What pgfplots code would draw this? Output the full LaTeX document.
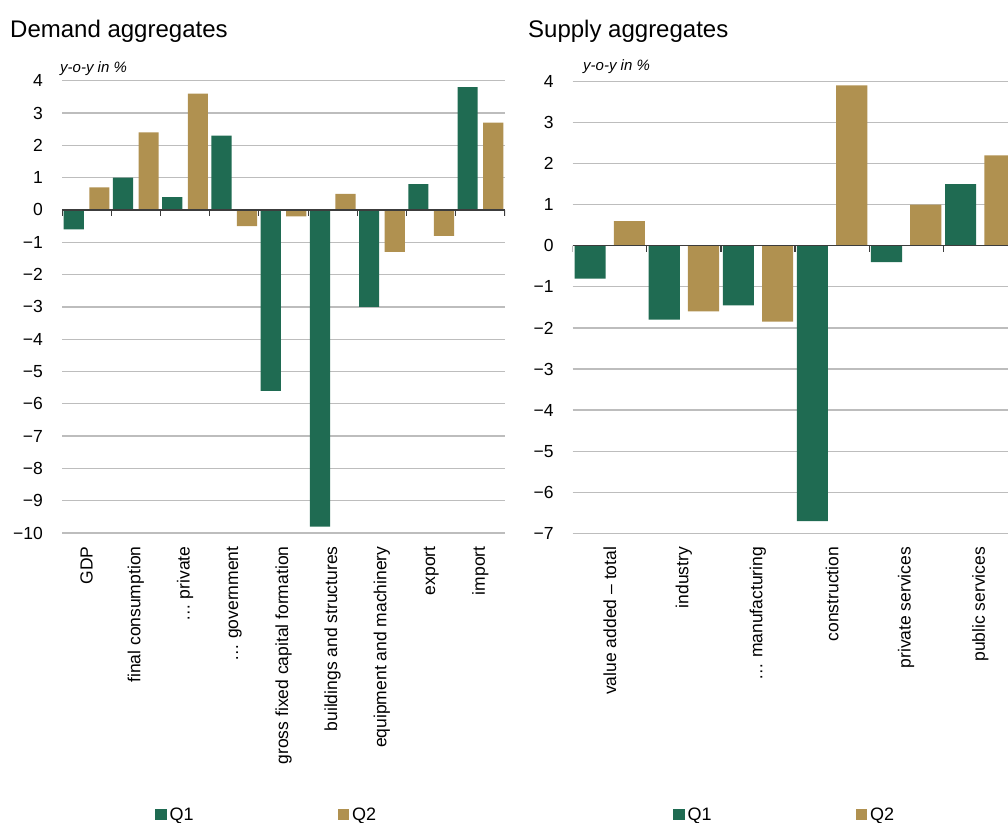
\documentclass[border=0pt]{standalone}
\usepackage{fontspec}
\setmainfont{Liberation Sans}
\usepackage{pgfplots}
\pgfplotsset{compat=1.18}
\definecolor{qone}{HTML}{1F6B52}
\definecolor{qtwo}{HTML}{B09150}
\definecolor{gridc}{HTML}{BDBDBD}
\definecolor{zeroc}{HTML}{3C3C3C}
\pgfplotsset{panel/.style={
  scale only axis,
  axis line style={draw=none},
  tick style={draw=none},
  ymajorgrids,
  grid style={gridc, line width=1.3bp},
  ybar,
  y tick label style={font=\fontsize{17.5bp}{20bp}\selectfont, inner sep=0pt, anchor=east, xshift=-19bp},
  x tick label style={font=\fontsize{17.5bp}{20bp}\selectfont, inner sep=0pt, yshift=-9bp, rotate=90, anchor=east},
  legend columns=2,
  legend image code/.code={\fill[##1,draw=none] (0bp,-5bp) rectangle (11.5bp,6bp);},
  legend style={draw=none, fill=none, inner sep=0pt, anchor=north west,
    font=\fontsize{18bp}{21bp}\selectfont,
    /tikz/every even column/.append style={column sep=142bp}},
}}
\begin{document}
\begin{tikzpicture}
\useasboundingbox (0,0) rectangle (1008bp,-823bp);
\clip (0,0) rectangle (1008bp,-823bp);
\node[anchor=base west, inner sep=0pt, font=\fontsize{24bp}{28bp}\selectfont] at (10bp,-37bp) {Demand aggregates};
\node[anchor=base west, inner sep=0pt, font=\fontsize{24bp}{28bp}\selectfont] at (528bp,-37bp) {Supply aggregates};
\node[anchor=base west, inner sep=0pt, font=\itshape\fontsize{15bp}{18bp}\selectfont] at (60bp,-72bp) {y-o-y in \%};
\node[anchor=base west, inner sep=0pt, font=\itshape\fontsize{15bp}{18bp}\selectfont] at (583bp,-70bp) {y-o-y in \%};

\begin{axis}[panel,
  at={(62bp,-533bp)}, anchor=south west,
  width=443bp, height=452.3bp,
  xmin=0.5, xmax=9.5, ymin=-10, ymax=4,
  ytick={-10,-9,...,4},
  yticklabels={−10,−9,−8,−7,−6,−5,−4,−3,−2,−1,0,1,2,3,4},
  xtick={1,...,9},
  xticklabels={GDP,final consumption,… private,… government,gross fixed capital formation,buildings and structures,equipment and machinery,export,import},
  bar width=0.41,
  legend style={at={(0.2099,-0.6036)}},
]
\addplot[fill=qone, draw=none, bar shift=-0.26] coordinates {(1,-0.6) (2,1.0) (3,0.4) (4,2.3) (5,-5.6) (6,-9.8) (7,-3.0) (8,0.8) (9,3.8)};
\addplot[fill=qtwo, draw=none, bar shift=0.26] coordinates {(1,0.7) (2,2.4) (3,3.6) (4,-0.5) (5,-0.2) (6,0.5) (7,-1.3) (8,-0.8) (9,2.7)};
\legend{\hspace{1bp}Q1,\hspace{1bp}Q2}
\draw[zeroc, line width=1.5bp] (axis cs:0.5,0) -- (axis cs:9.5,0);
\pgfplotsinvokeforeach{0.5,1.5,...,9.5}{\draw[zeroc, line width=1.2bp] (axis cs:#1,0) -- ([yshift=-6bp]axis cs:#1,0);}
\end{axis}

\begin{axis}[panel,
  at={(572.7bp,-533.4bp)}, anchor=south west,
  width=444.6bp, height=452.1bp,
  xmin=0.5, xmax=6.5, ymin=-7, ymax=4,
  ytick={-7,-6,...,4},
  yticklabels={−7,−6,−5,−4,−3,−2,−1,0,1,2,3,4},
  xtick={1,...,6},
  xticklabels={value added – total,industry,… manufacturing,construction,private services,public services},
  bar width=0.42,
  legend style={at={(0.2256,-0.603)}},
]
\addplot[fill=qone, draw=none, bar shift=-0.265] coordinates {(1,-0.8) (2,-1.8) (3,-1.45) (4,-6.7) (5,-0.4) (6,1.5)};
\addplot[fill=qtwo, draw=none, bar shift=0.265] coordinates {(1,0.6) (2,-1.6) (3,-1.85) (4,3.9) (5,1.0) (6,2.2)};
\legend{\hspace{1bp}Q1,\hspace{1bp}Q2}
\draw[zeroc, line width=1.5bp] (axis cs:0.5,0) -- (axis cs:6.5,0);
\pgfplotsinvokeforeach{0.5,1.5,...,6.5}{\draw[zeroc, line width=1.2bp] (axis cs:#1,0) -- ([yshift=-6bp]axis cs:#1,0);}
\end{axis}
\end{tikzpicture}
\end{document}
